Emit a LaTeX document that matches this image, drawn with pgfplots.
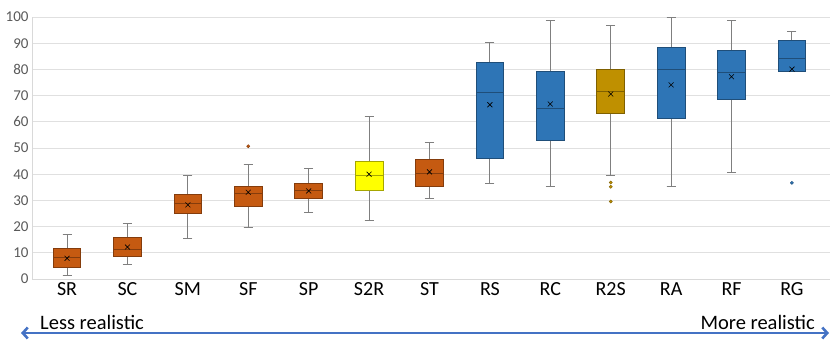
\documentclass[border=0pt]{standalone}
\usepackage{pgfplots}
\pgfplotsset{compat=1.18}
\usepgfplotslibrary{statistics}
\usetikzlibrary{arrows.meta}
\usepackage{fontspec}
\setmainfont{Carlito}

\definecolor{orng}{HTML}{C55A11}
\definecolor{orngdk}{HTML}{843C0C}
\definecolor{yell}{HTML}{FFFF00}
\definecolor{yelldk}{HTML}{A6A600}
\definecolor{gold}{HTML}{BF9000}
\definecolor{golddk}{HTML}{7F6000}
\definecolor{blu}{HTML}{2E75B6}
\definecolor{bludk}{HTML}{1F4E79}
\definecolor{whisk}{HTML}{7F7F7F}
\definecolor{arrowblue}{HTML}{4472C4}
\definecolor{ticktext}{HTML}{595959}

\pgfplotsset{
  bx/.style 2 args={
    solid, fill=#1, draw=#2, line width=0.9pt,
    boxplot/draw direction=y,
    boxplot/box extend=0.46,
    boxplot/whisker extend=0.15,
    boxplot/every whisker/.style={draw=whisk, line width=0.9pt},
    boxplot/every median/.style={draw=#2, line width=1pt},
  },
}

\begin{document}
\begin{tikzpicture}
  \begin{axis}[
    scale only axis,
    width=798pt, height=262pt,
    xmin=0.42, xmax=13.63,
    ymin=0, ymax=100,
    xtick={1,...,13},
    xticklabels={SR,SC,SM,SF,SP,S2R,ST,RS,RC,R2S,RA,RF,RG},
    ytick={0,10,...,100},
    major tick length=0pt,
    axis x line*=bottom, axis y line*=left,
    axis line style={draw=black!15, line width=0.8pt},
    ymajorgrids, grid style={draw=black!12, line width=0.8pt},
    /pgf/number format/assume math mode=true,
    yticklabel style={font=\fontsize{15}{18}\selectfont, text=ticktext},
    xticklabel style={font=\fontsize{20}{24}\selectfont, text=black},
  ]
    % SR
    \addplot[bx={orng}{orngdk}, boxplot prepared={draw position=1,
      lower whisker=1.4, lower quartile=4.3, median=8.3, upper quartile=11.6, upper whisker=16.9}] coordinates {};
    % SC
    \addplot[bx={orng}{orngdk}, boxplot prepared={draw position=2,
      lower whisker=5.6, lower quartile=8.5, median=11.3, upper quartile=15.8, upper whisker=21.1}] coordinates {};
    % SM
    \addplot[bx={orng}{orngdk}, boxplot prepared={draw position=3,
      lower whisker=15.5, lower quartile=25.1, median=28.9, upper quartile=32.4, upper whisker=39.5}] coordinates {};
    % SF
    \addplot[bx={orng}{orngdk}, boxplot prepared={draw position=4,
      lower whisker=19.7, lower quartile=27.8, median=32.7, upper quartile=35.4, upper whisker=43.7}] coordinates {};
    % SP
    \addplot[bx={orng}{orngdk}, boxplot prepared={draw position=5,
      lower whisker=25.5, lower quartile=30.6, median=33.8, upper quartile=36.6, upper whisker=42.2}] coordinates {};
    % S2R
    \addplot[bx={yell}{yelldk}, boxplot prepared={draw position=6,
      lower whisker=22.5, lower quartile=33.9, median=39.4, upper quartile=44.8, upper whisker=61.9}] coordinates {};
    % ST
    \addplot[bx={orng}{orngdk}, boxplot prepared={draw position=7,
      lower whisker=30.8, lower quartile=35.2, median=40.1, upper quartile=45.6, upper whisker=52.1}] coordinates {};
    % RS
    \addplot[bx={blu}{bludk}, boxplot prepared={draw position=8,
      lower whisker=36.6, lower quartile=46.1, median=71.2, upper quartile=82.8, upper whisker=90.1}] coordinates {};
    % RC
    \addplot[bx={blu}{bludk}, boxplot prepared={draw position=9,
      lower whisker=35.2, lower quartile=52.7, median=65.0, upper quartile=79.1, upper whisker=98.5}] coordinates {};
    % R2S
    \addplot[bx={gold}{golddk}, boxplot prepared={draw position=10,
      lower whisker=39.5, lower quartile=63.3, median=71.7, upper quartile=80.1, upper whisker=96.9}] coordinates {};
    % RA
    \addplot[bx={blu}{bludk}, boxplot prepared={draw position=11,
      lower whisker=35.2, lower quartile=61.4, median=80.1, upper quartile=88.5, upper whisker=100}] coordinates {};
    % RF
    \addplot[bx={blu}{bludk}, boxplot prepared={draw position=12,
      lower whisker=40.8, lower quartile=68.4, median=78.9, upper quartile=87.3, upper whisker=98.5}] coordinates {};
    % RG
    \addplot[bx={blu}{bludk}, boxplot prepared={draw position=13,
      lower whisker=79.1, lower quartile=79.1, median=84.3, upper quartile=91.1, upper whisker=94.3}] coordinates {};

    % means
    \addplot[only marks, mark=x, mark size=3.5pt, black, line width=0.6pt] coordinates {
      (1,7.9)(2,12.2)(3,28.3)(4,33.1)(5,33.6)(6,40.0)(7,40.9)
      (8,66.5)(9,66.8)(10,70.6)(11,74.1)(12,77.2)(13,80.1)};
    % outliers
    \addplot[only marks, mark=*, mark size=1.6pt, draw=orngdk, fill=orng] coordinates {(4,50.7)};
    \addplot[only marks, mark=*, mark size=1.6pt, draw=golddk, fill=gold] coordinates {(10,36.8)(10,35.2)(10,29.6)};
    \addplot[only marks, mark=*, mark size=1.6pt, draw=bludk, fill=blu] coordinates {(13,36.7)};
  \end{axis}
  \draw[arrowblue, line width=2.6pt, {Straight Barb[length=5pt,width=11pt]}-{Straight Barb[length=5pt,width=11pt]}]
    ([xshift=-11pt,yshift=-54pt]current axis.south west) -- ([xshift=797pt,yshift=-54pt]current axis.south west);
  \node[anchor=base west, inner sep=0pt, font=\fontsize{20.5}{24}\selectfont]
    at ([xshift=8pt,yshift=-50pt]current axis.south west) {Less realistic};
  \node[anchor=base east, inner sep=0pt, font=\fontsize{20.5}{24}\selectfont]
    at ([xshift=783pt,yshift=-50pt]current axis.south west) {More realistic};
  \pgfresetboundingbox
  \useasboundingbox ([xshift=-32pt,yshift=-67pt]current axis.south west) rectangle ++(831pt,346pt);
\end{tikzpicture}
\end{document}
